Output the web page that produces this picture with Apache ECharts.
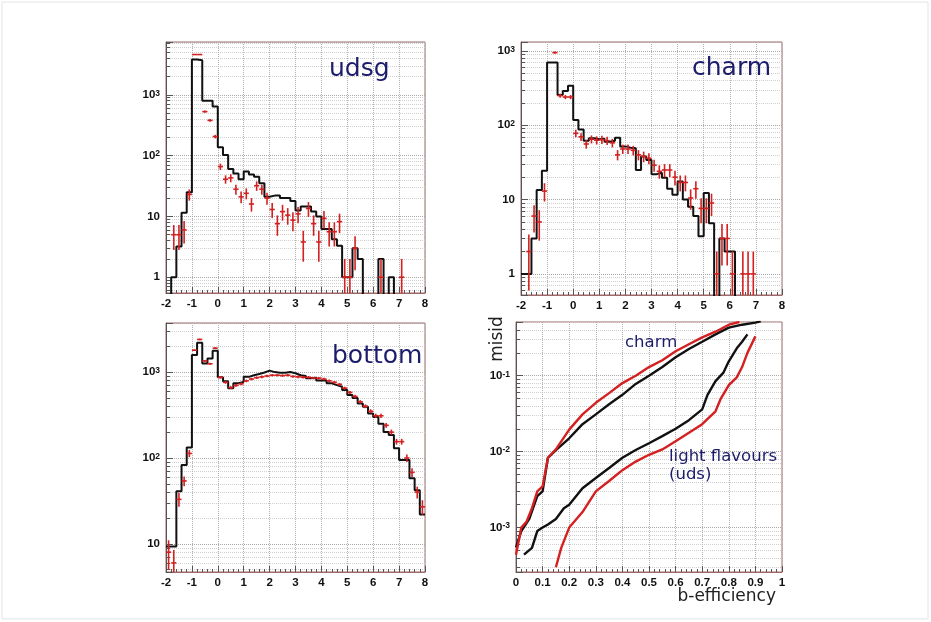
<!DOCTYPE html>
<html><head><meta charset="utf-8">
<script src="https://cdn.jsdelivr.net/npm/echarts@6/dist/echarts.min.js"></script>
<style>html,body{margin:0;padding:0;background:#fff}#c{width:931px;height:622px}</style>
</head><body><div id="c"></div>
<script>
// ---- histogram bin edges (x) ----
const binEdges = [-2,-1.8,-1.6,-1.4,-1.2,-1,-0.8,-0.6,-0.4,-0.2,0,0.2,0.4,0.6,0.8,1,1.2,1.4,1.6,1.8,2,2.2,2.4,2.6,2.8,3,3.2,3.4,3.6,3.8,4,4.2,4.4,4.6,4.8,5,5.2,5.4,5.6,5.8,6,6.2,6.4,6.6,6.8,7,7.2,7.4,7.6,7.8,8];

// ---- udsg ----
const udsgSim = [0,1,3.2,11.5,25,3800,3700,800,800,640,137,102,60,51,41,55,49,45,35,21,22,22,20,20,18,12.5,14.5,14.5,12,10,6.2,6.2,4.2,3.3,1,1,3,2,0,0,0,2,0,1,0,0,0,0,0,0];
const udsgDataX = [-1.7,-1.5,-1.3,-1.1,-0.9,-0.7,-0.5,-0.3,-0.1,0.1,0.3,0.5,0.7,0.9,1.1,1.3,1.5,1.7,1.9,2.1,2.3,2.5,2.7,2.9,3.1,3.3,3.5,3.7,3.9,4.1,4.3,4.5,4.7,4.9,5.1,5.3,6.3,7.1];
const udsgDataY = [5,5,6,23,4600,4600,530,380,206,66,41,43,28,21,24,16,32,28,20,13,7.6,12,10.5,8.7,11,3.8,13.5,7.6,3.8,9.3,5.6,5.6,8.2,1,1,3,1,1];
const udsgDataErr = [2.2,2.2,2.4,4.8,68,68,23,19,14,8,6.4,6.5,5.3,4.6,4.9,4,5.7,5.3,4.5,3.6,2.8,3.5,3.2,3,3.3,2,3.7,2.8,2,3,2.4,2.4,2.9,1,1,1.7,1,1];

// ---- charm ----
const charmSim = [1,1,3,13.5,24.5,700,700,256,290,340,118,88,62,67,65,66,60,62,68,52,50,49,25,38,34,22,23,19.6,14,11.6,17.5,10,8,6,3.2,12.3,4.8,0,3,2,2,0,0,0,0,0,0,0,0,0];
const charmDataX = [-1.7,-1.5,-1.3,-1.1,-0.7,-0.5,-0.3,-0.1,0.1,0.3,0.5,0.7,0.9,1.1,1.3,1.5,1.7,1.9,2.1,2.3,2.5,2.7,2.9,3.1,3.3,3.5,3.7,3.9,4.1,4.3,4.5,4.7,4.9,5.1,5.3,5.5,5.7,5.9,6.1,6.5,6.7,6.9];
const charmDataY = [2,6,5,13,950,250,240,240,78,70,56,65,63,64,62,58,40,48,48,46,40,38,36,29,24,25,25,20,17,17,10.5,14,7.6,7.6,9,1,3,3,1,1,1,1];
const charmDataErr = [1.4,2.4,2.2,3.6,31,16,15.5,15.5,8.8,8.4,7.5,8,8,8,7.9,7.6,6.3,6.9,6.9,6.8,6.3,6.2,6,5.4,4.9,5,5,4.5,4.1,4.1,3.2,3.7,2.8,2.8,3,1,1.7,1.7,1,1,1,1];

// ---- bottom ----
const bottomSim = [9.3,9.3,41,83,132,1580,2190,1260,1440,1770,870,780,650,740,770,880,920,950,990,1040,1000,980,980,1000,970,920,900,850,860,800,800,740,705,675,620,540,500,430,395,330,300,250,200,185,130,95,95,58,42,22];
const bottomDataX = [-1.9,-1.7,-1.5,-1.3,-1.1,-0.9,-0.7,-0.5,-0.3,-0.1,0.1,0.3,0.5,0.7,0.9,1.1,1.3,1.5,1.7,1.9,2.1,2.3,2.5,2.7,2.9,3.1,3.3,3.5,3.7,3.9,4.1,4.3,4.5,4.7,4.9,5.1,5.3,5.5,5.7,5.9,6.1,6.3,6.5,6.7,6.9,7.1,7.3,7.5,7.7,7.9];
const bottomDataY = [8,6,33,54,113,1800,2400,1350,1250,1900,870,760,660,700,730,790,830,860,880,900,920,920,910,920,890,880,870,870,850,850,830,790,760,720,650,580,520,450,400,350,310,310,240,200,155,155,100,68,40,27];
const bottomDataErr = [3,2.5,6,7,11,42,49,37,35,44,30,28,26,26,27,28,29,29,30,30,30,30,30,30,30,30,29,29,29,29,29,28,28,27,25,24,23,21,20,19,18,18,15,14,12,12,10,8,6.3,5.2];

// ---- misid vs b-efficiency ----
const charmRedEff = [0,0.02,0.04,0.06,0.08,0.1,0.12,0.15,0.2,0.25,0.3,0.35,0.4,0.45,0.5,0.55,0.6,0.65,0.7,0.75,0.8,0.84];
const charmRedMis = [4.4e-4,1e-3,1.2e-3,1.8e-3,3e-3,3.5e-3,8.3e-3,0.0107,0.0195,0.031,0.044,0.059,0.08,0.10,0.13,0.16,0.21,0.26,0.32,0.38,0.47,0.51];
const charmBlackEff = [0,0.02,0.05,0.08,0.1,0.12,0.15,0.2,0.25,0.3,0.35,0.4,0.45,0.5,0.55,0.6,0.65,0.7,0.75,0.8,0.85,0.9,0.92];
const charmBlackMis = [5.5e-4,9e-4,1.3e-3,2.6e-3,3e-3,8.3e-3,0.0105,0.015,0.023,0.031,0.042,0.056,0.078,0.10,0.13,0.175,0.225,0.28,0.35,0.43,0.47,0.5,0.52];
const lightBlackEff = [0.03,0.06,0.08,0.1,0.12,0.15,0.18,0.2,0.25,0.3,0.35,0.4,0.45,0.5,0.55,0.6,0.65,0.7,0.72,0.75,0.78,0.8,0.83,0.85,0.87];
const lightBlackMis = [4.4e-4,5.4e-4,9e-4,1e-3,1.1e-3,1.3e-3,1.8e-3,2e-3,3.3e-3,4.5e-3,6.1e-3,8.3e-3,0.0105,0.0129,0.016,0.02,0.026,0.036,0.056,0.085,0.11,0.155,0.23,0.28,0.35];
const lightRedEff = [0.15,0.17,0.2,0.25,0.3,0.35,0.4,0.45,0.5,0.55,0.6,0.65,0.7,0.75,0.77,0.8,0.83,0.85,0.87,0.9];
const lightRedMis = [3e-4,5.4e-4,1e-3,1.6e-3,3e-3,4.1e-3,5.7e-3,7.4e-3,9.1e-3,0.0107,0.0137,0.0177,0.023,0.034,0.05,0.075,0.095,0.13,0.2,0.33];

// ---- axis ranges / labels ----
const histXTicks = [-2,8,1];
const yRanges = [[0.55,7400],[0.52,1320],[4.7,3730],[2.6e-4,0.51]];
const effRange = [0,1,0.1];

const RED = '#d42020', BLACK = '#111111', NAVY = '#1c1c6c', FRAME = '#a06868';
const FLOOR = 1e-6;

function logLabel(v){
  const l = Math.log10(v), e = Math.round(l);
  if (Math.abs(l - e) > 1e-6) return '';
  if (e === 0) return '1';
  if (e === 1) return '10';
  return '10{s|' + e + '}';
}
const labelStyle = {color:'#111', fontWeight:'bold', fontSize:11.5, fontFamily:'"Liberation Sans", Arial, sans-serif'};

const grids = [
  {left:166, top:42, width:259, height:251},
  {left:521, top:42, width:261, height:253},
  {left:166, top:323, width:259, height:249},
  {left:516, top:322, width:266, height:250}
].map(g => Object.assign({show:true, borderColor:FRAME, borderWidth:1, backgroundColor:'#fff'}, g));

const xAxes = [0,1,2,3].map(i => {
  const roc = i === 3;
  return {
    type:'value', gridIndex:i,
    min: roc ? effRange[0] : histXTicks[0], max: roc ? effRange[1] : histXTicks[1], interval: roc ? effRange[2] : histXTicks[2],
    axisLine:{show:true, onZero:false, lineStyle:{color:FRAME, width:1}},
    axisTick:{show:true, inside:true, length:6, lineStyle:{color:'#555'}},
    minorTick:{show:true, splitNumber:5, length:3, lineStyle:{color:'#555'}},
    splitLine:{show:true, lineStyle:{color:'#b0b0b0', type:'dotted'}},
    axisLabel:Object.assign({margin:5, showMinLabel:true, showMaxLabel:true}, labelStyle)
  };
});
const yAxes = [0,1,2,3].map(i => ({
  type:'log', logBase:10, gridIndex:i, min:yRanges[i][0], max:yRanges[i][1],
  axisLine:{show:true, onZero:false, lineStyle:{color:'#555', width:1}},
  axisTick:{show:true, inside:true, length:7, lineStyle:{color:'#555'}},
  minorTick:{show:true, splitNumber:9, length:4, lineStyle:{color:'#555'}},
  splitLine:{show:true, lineStyle:{color:'#a8a8a8', type:'dotted'}},
  minorSplitLine:{show:true, lineStyle:{color:'#cfcfcf', type:'dotted'}},
  axisLabel:Object.assign({margin:6, showMinLabel:false, showMaxLabel:false, formatter:logLabel,
    rich:{s:{fontSize:8.5, fontWeight:'bold', fontFamily:'"Liberation Sans", Arial, sans-serif', color:'#111', verticalAlign:'top', lineHeight:6}}}, labelStyle)
}));

function histSeries(sim, i){
  const data = binEdges.map((x, k) => [x, Math.max(sim[Math.min(k, sim.length - 1)], FLOOR)]);
  return {type:'line', xAxisIndex:i, yAxisIndex:i, step:'end', data, showSymbol:false, symbol:'none',
    lineStyle:{color:BLACK, width:2}, clip:true, z:2, silent:true};
}
function pointSeries(xs, ys, es, i){
  const ymin = yRanges[i][0], ymax = yRanges[i][1];
  return {type:'custom', xAxisIndex:i, yAxisIndex:i, z:3, silent:true,
    data: xs.map((x, k) => [x, ys[k], es[k]]),
    encode:{x:0, y:1},
    renderItem:function(params, api){
      const x = api.value(0), v = api.value(1), e = api.value(2);
      const lo = Math.max(v - e, ymin), hi = Math.min(v + e, ymax);
      const l = api.coord([x - 0.1, v]), r = api.coord([x + 0.1, v]);
      const t = api.coord([x, hi]), b = api.coord([x, lo]);
      const st = {stroke:RED, lineWidth:1.6};
      return {type:'group', children:[
        {type:'line', shape:{x1:l[0], y1:l[1], x2:r[0], y2:r[1]}, style:st},
        {type:'line', shape:{x1:t[0], y1:t[1], x2:b[0], y2:b[1]}, style:st}
      ]};
    }};
}
function rocSeries(xs, ys, color){
  return {type:'line', xAxisIndex:3, yAxisIndex:3, data:xs.map((x, k) => [x, ys[k]]), showSymbol:false, symbol:'none',
    lineStyle:{color, width:2.4}, clip:true, silent:true};
}

const series = [
  histSeries(udsgSim, 0), pointSeries(udsgDataX, udsgDataY, udsgDataErr, 0),
  histSeries(charmSim, 1), pointSeries(charmDataX, charmDataY, charmDataErr, 1),
  histSeries(bottomSim, 2), pointSeries(bottomDataX, bottomDataY, bottomDataErr, 2),
  rocSeries(charmBlackEff, charmBlackMis, BLACK), rocSeries(charmRedEff, charmRedMis, RED),
  rocSeries(lightBlackEff, lightBlackMis, BLACK), rocSeries(lightRedEff, lightRedMis, RED)
];

const big = '25px "DejaVu Sans", sans-serif', mid = '16.5px "DejaVu Sans", sans-serif';
const graphic = [
  {type:'rect', shape:{x:2, y:2, width:926, height:617}, style:{fill:'none', stroke:'#e4e4e4', lineWidth:1}, z:-10},
  {type:'text', x:329, y:69, style:{text:'udsg', font:big, fill:NAVY, verticalAlign:'middle'}, z:10},
  {type:'text', x:692, y:68, style:{text:'charm', font:big, fill:NAVY, verticalAlign:'middle'}, z:10},
  {type:'text', x:332, y:356, style:{text:'bottom', font:big, fill:NAVY, verticalAlign:'middle'}, z:10},
  {type:'text', x:625, y:343, style:{text:'charm', font:mid, fill:NAVY, verticalAlign:'middle'}, z:10},
  {type:'text', x:669, y:457, style:{text:'light flavours', font:mid, fill:NAVY, verticalAlign:'middle'}, z:10},
  {type:'text', x:669, y:475, style:{text:'(uds)', font:mid, fill:NAVY, verticalAlign:'middle'}, z:10},
  {type:'text', x:498, y:339, rotation:Math.PI/2, style:{text:'misid', font:'17px "DejaVu Sans", sans-serif', fill:'#222', align:'center', verticalAlign:'middle'}, z:10},
  {type:'text', x:776, y:597, style:{text:'b-efficiency', font:'17px "DejaVu Sans", sans-serif', fill:'#222', align:'right', verticalAlign:'middle'}, z:10}
];

const chart = echarts.init(document.getElementById('c'), null, {renderer:'canvas'});
chart.setOption({animation:false, backgroundColor:'#fff', grid:grids, xAxis:xAxes, yAxis:yAxes, series, graphic});
</script></body></html>
